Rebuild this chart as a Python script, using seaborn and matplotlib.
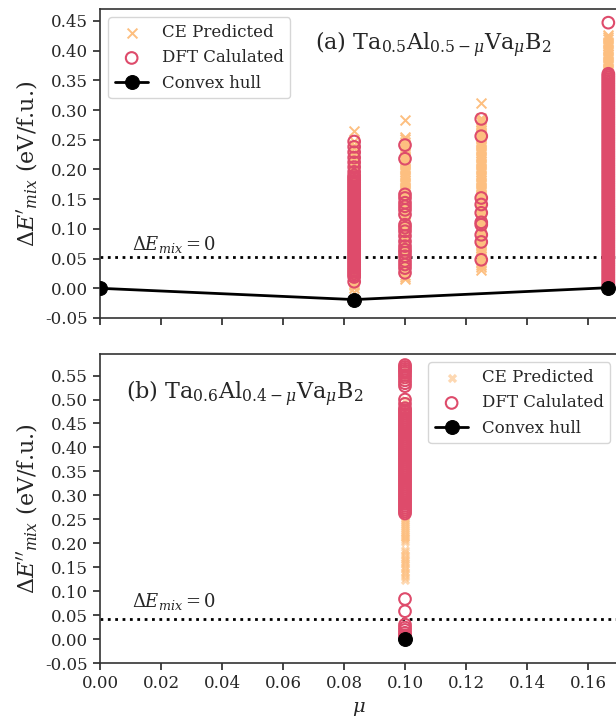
import numpy as np
import pandas as pd
import matplotlib
matplotlib.use("Agg")
import matplotlib.pyplot as plt
import seaborn as sns

sns.set_style("ticks")
plt.rcParams["font.family"] = ["DejaVu Serif"]
plt.rcParams["mathtext.fontset"] = "dejavuserif"

ORANGE = "#fdbf80"
RED = "#de4b6b"

# ---------------- panel (a) data ----------------
mu_a = [1/12, 0.10, 0.125, 1/6]
ce_a_083 = [0.265, 0.248, 0.241, 0.236, 0.229, 0.224, 0.219, 0.213, 0.208, 0.203, 0.197, 0.192,
            0.186, 0.181, 0.176, 0.171, 0.165, 0.160, 0.154, 0.149, 0.143, 0.138, 0.133, 0.127,
            0.122, 0.117, 0.111, 0.106, 0.101, 0.095, 0.090, 0.085, 0.079, 0.074, 0.069, 0.063,
            0.058, 0.053, 0.047, 0.042, 0.037, 0.031, 0.026, 0.021, 0.015, 0.010, 0.005, 0.000, -0.006]
dft_a_083 = [0.247, 0.238, 0.229, 0.220, 0.212, 0.204, 0.196, 0.190, 0.187, 0.184, 0.181, 0.178,
             0.175, 0.172, 0.169, 0.166, 0.163, 0.160, 0.157, 0.154, 0.151, 0.148, 0.145, 0.142,
             0.139, 0.136, 0.133, 0.130, 0.127, 0.124, 0.121, 0.118, 0.115, 0.112, 0.109, 0.106,
             0.103, 0.100, 0.097, 0.094, 0.091, 0.088, 0.085, 0.082, 0.079, 0.076, 0.073, 0.070,
             0.067, 0.064, 0.061, 0.058, 0.055, 0.052, 0.049, 0.046, 0.043, 0.040, 0.037, 0.034,
             0.031, 0.028, 0.025, 0.022, 0.019, 0.011]
ce_a_100 = [0.283, 0.255, 0.251, 0.247, 0.243, 0.239, 0.235, 0.231, 0.227, 0.223, 0.219, 0.215,
            0.211, 0.207, 0.203, 0.199, 0.195, 0.191, 0.187, 0.183, 0.179, 0.175, 0.171, 0.167,
            0.163, 0.159, 0.155, 0.151, 0.147, 0.143, 0.139, 0.135, 0.131, 0.127, 0.123, 0.119,
            0.115, 0.111, 0.107, 0.103, 0.099, 0.095, 0.091, 0.087, 0.083, 0.079, 0.075, 0.071,
            0.067, 0.063, 0.059, 0.055, 0.051, 0.047, 0.043, 0.039, 0.035, 0.031, 0.027, 0.023,
            0.019, 0.015]
dft_a_100 = [0.241, 0.218, 0.158, 0.152, 0.144, 0.138, 0.132, 0.124, 0.107, 0.102, 0.096, 0.088,
             0.079, 0.071, 0.065, 0.060, 0.054, 0.046, 0.040, 0.034, 0.026]
ce_a_125 = [0.312, 0.287, 0.283, 0.279, 0.275, 0.271, 0.267, 0.263, 0.259, 0.255, 0.251, 0.247,
            0.243, 0.239, 0.235, 0.231, 0.227, 0.223, 0.219, 0.215, 0.211, 0.207, 0.203, 0.199,
            0.195, 0.191, 0.187, 0.183, 0.179, 0.175, 0.171, 0.167, 0.163, 0.159, 0.155, 0.151,
            0.147, 0.143, 0.139, 0.135, 0.131, 0.127, 0.123, 0.119, 0.115, 0.111, 0.107, 0.103,
            0.099, 0.095, 0.091, 0.087, 0.083, 0.079, 0.075, 0.071, 0.067, 0.063, 0.059, 0.055,
            0.051, 0.047, 0.043, 0.039, 0.035, 0.031]
dft_a_125 = [0.285, 0.256, 0.152, 0.141, 0.127, 0.111, 0.107, 0.090, 0.078, 0.048]
ce_a_167 = [0.427, 0.423, 0.419, 0.415, 0.411, 0.407, 0.403, 0.399, 0.395, 0.391, 0.387, 0.383,
            0.379, 0.375, 0.371, 0.367, 0.363, 0.300, 0.250, 0.200, 0.150, 0.100, 0.050, 0.010]
dft_a_167 = [0.447, 0.361, 0.358, 0.355, 0.352, 0.349, 0.346, 0.343, 0.340, 0.337, 0.334, 0.331,
             0.328, 0.325, 0.322, 0.319, 0.316, 0.313, 0.310, 0.307, 0.304, 0.301, 0.298, 0.295,
             0.292, 0.289, 0.286, 0.283, 0.280, 0.277, 0.274, 0.271, 0.268, 0.265, 0.262, 0.259,
             0.256, 0.253, 0.250, 0.247, 0.244, 0.241, 0.238, 0.235, 0.232, 0.229, 0.226, 0.223,
             0.220, 0.217, 0.214, 0.211, 0.208, 0.205, 0.202, 0.199, 0.196, 0.193, 0.190, 0.187,
             0.184, 0.181, 0.178, 0.175, 0.172, 0.169, 0.166, 0.163, 0.160, 0.157, 0.154, 0.151,
             0.148, 0.145, 0.142, 0.139, 0.136, 0.133, 0.130, 0.127, 0.124, 0.121, 0.118, 0.115,
             0.112, 0.109, 0.106, 0.103, 0.100, 0.097, 0.094, 0.091, 0.088, 0.085, 0.082, 0.079,
             0.076, 0.073, 0.070, 0.067, 0.064, 0.061, 0.058, 0.055, 0.052, 0.049, 0.046, 0.043,
             0.040, 0.037, 0.034, 0.031, 0.028, 0.025, 0.022, 0.019, 0.016, 0.013, 0.010, 0.007,
             0.004]
hull_a_mu = [0.0, 1/12, 1/6]
hull_a_E = [0.0, -0.019, 0.001]
ref_a = 0.053

# ---------------- panel (b) data ----------------
mu_b = 0.10
ce_b = [0.565, 0.540, 0.500, 0.480, 0.440, 0.400, 0.360, 0.320, 0.280,
        0.258, 0.254, 0.250, 0.246, 0.242, 0.238, 0.234, 0.230, 0.226, 0.222, 0.218, 0.214,
        0.210, 0.206, 0.202, 0.186, 0.182, 0.176, 0.170, 0.166, 0.160, 0.156, 0.150, 0.146,
        0.140, 0.136, 0.130, 0.124]
dft_b = [0.572, 0.568, 0.564, 0.560, 0.556, 0.551, 0.546, 0.540, 0.534, 0.528, 0.500, 0.491,
         0.482, 0.478, 0.474, 0.470, 0.466, 0.462, 0.458, 0.454, 0.450, 0.446, 0.442, 0.438,
         0.434, 0.430, 0.426, 0.422, 0.418, 0.414, 0.410, 0.406, 0.402, 0.398, 0.394, 0.390,
         0.386, 0.382, 0.378, 0.374, 0.370, 0.366, 0.362, 0.358, 0.354, 0.350, 0.346, 0.342,
         0.338, 0.334, 0.330, 0.326, 0.322, 0.318, 0.314, 0.310, 0.306, 0.302, 0.298, 0.294,
         0.290, 0.286, 0.282, 0.278, 0.274, 0.270, 0.266, 0.262,
         0.0835, 0.058, 0.030, 0.024, 0.019, 0.013, 0.008, 0.004]
hull_b_mu = [0.10]
hull_b_E = [0.0]
ref_b = 0.042


def long_df(mus, lists):
    xs, ys = [], []
    for m, vals in zip(mus, lists):
        xs += [m] * len(vals)
        ys += list(vals)
    return pd.DataFrame({"mu": xs, "E": ys})


ce_a = long_df(mu_a, [ce_a_083, ce_a_100, ce_a_125, ce_a_167])
dft_a = long_df(mu_a, [dft_a_083, dft_a_100, dft_a_125, dft_a_167])
ce_bdf = long_df([mu_b], [ce_b])
dft_bdf = long_df([mu_b], [dft_b])

W, H = 616, 717
fig = plt.figure(figsize=(W / 100, H / 100), dpi=100)
axw = (618.5 - 100) / W
ax1 = fig.add_axes([100 / W, 1 - 318 / H, axw, (318 - 9) / H])
ax2 = fig.add_axes([100 / W, 1 - 663 / H, axw, (663 - 354) / H])

# panel a
sns.scatterplot(data=ce_a, x="mu", y="E", ax=ax1, marker="x", color=ORANGE, s=50,
                linewidth=1.4, label="CE Predicted", zorder=2)
sns.scatterplot(data=dft_a, x="mu", y="E", ax=ax1, marker="o", facecolor="none",
                edgecolor=RED, s=70, linewidth=1.5, label="DFT Calulated", zorder=3)
sns.lineplot(x=hull_a_mu, y=hull_a_E, ax=ax1, color="black", lw=2, marker="o",
             markersize=10, mec="black", label="Convex hull", zorder=4)
ax1.axhline(ref_a, color="black", ls=":", lw=2, zorder=1)
ax1.text(0.0105, ref_a + 0.012, r"$\Delta E_{mix} = 0$", fontsize=13)
ax1.text(0.415, 0.867, r"(a) Ta$_{0.5}$Al$_{0.5-\mu}$Va$_{\mu}$B$_2$", transform=ax1.transAxes,
         fontsize=16)
ax1.set_ylim(-0.05, 0.47)
ax1.set_xlim(0, 0.17)
ax1.set_yticks(np.arange(-0.05, 0.451, 0.05))
ax1.set_xticks(np.arange(0, 0.161, 0.02))
ax1.set_xticklabels([])
ax1.set_xlabel("")
ax1.set_ylabel(r"$\Delta E'_{mix}$ (eV/f.u.)", fontsize=16)
ax1.legend(loc="upper left", fontsize=12)

# panel b
sns.scatterplot(data=ce_bdf, x="mu", y="E", ax=ax2, marker="X", color=ORANGE, s=45,
                alpha=0.6, linewidth=0, label="CE Predicted", zorder=2)
sns.scatterplot(data=dft_bdf, x="mu", y="E", ax=ax2, marker="o", facecolor="none",
                edgecolor=RED, s=70, linewidth=1.5, label="DFT Calulated", zorder=3)
sns.lineplot(x=hull_b_mu, y=hull_b_E, ax=ax2, color="black", lw=2, marker="o",
             markersize=10, mec="black", label="Convex hull", zorder=4)
ax2.axhline(ref_b, color="black", ls=":", lw=2, zorder=1)
ax2.text(0.0105, ref_b + 0.025, r"$\Delta E_{mix} = 0$", fontsize=13)
ax2.text(0.05, 0.854, r"(b) Ta$_{0.6}$Al$_{0.4-\mu}$Va$_{\mu}$B$_2$", transform=ax2.transAxes,
         fontsize=16)
ax2.set_ylim(-0.05, 0.595)
ax2.set_xlim(0, 0.17)
ax2.set_yticks(np.arange(-0.05, 0.551, 0.05))
ax2.set_xticks(np.arange(0, 0.161, 0.02))
ax2.set_xlabel(r"$\mu$", fontsize=14, labelpad=6)
ax2.set_ylabel(r"$\Delta E''_{mix}$ (eV/f.u.)", fontsize=16)
ax2.legend(loc="upper right", fontsize=12)

for ax in (ax1, ax2):
    ax.tick_params(labelsize=12, length=5, width=1.2)
    ax.yaxis.set_major_formatter(matplotlib.ticker.FormatStrFormatter("%.2f"))
    for s in ax.spines.values():
        s.set_color("#333333")
        s.set_linewidth(1.2)
ax2.xaxis.set_major_formatter(matplotlib.ticker.FormatStrFormatter("%.2f"))

fig.savefig("out.png", dpi=100)
